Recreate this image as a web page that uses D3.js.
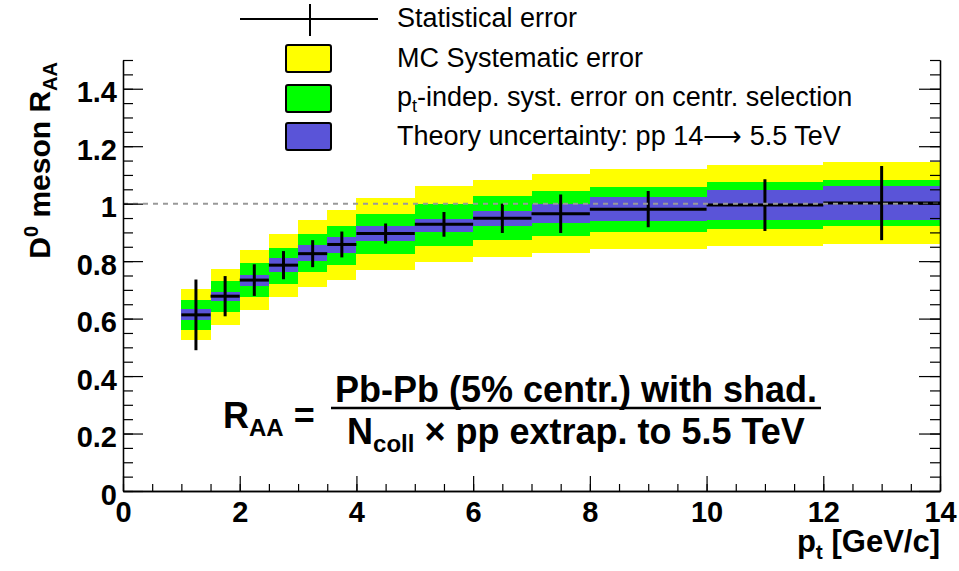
<!DOCTYPE html>
<html>
<head>
<meta charset="utf-8">
<script src="https://cdn.jsdelivr.net/npm/d3@7/dist/d3.min.js"></script>
<style>
  body { margin: 0; background: #fff; }
  text { font-family: "Liberation Sans", Arial, Helvetica, sans-serif; }
</style>
</head>
<body>
<div id="chart"></div>
<script>
// pt bins
const binLo = [1, 1.5, 2, 2.5, 3, 3.5, 4, 5, 6, 7, 8, 10, 12];
const binHi = [1.5, 2, 2.5, 3, 3.5, 4, 5, 6, 7, 8, 10, 12, 14];
// central R_AA values
const raa = [0.613, 0.678, 0.734, 0.786, 0.826, 0.858, 0.896, 0.928, 0.949, 0.965, 0.981, 0.995, 1.002];
// statistical error (symmetric)
const statErr = [0.123, 0.070, 0.055, 0.049, 0.047, 0.045, 0.035, 0.043, 0.051, 0.067, 0.063, 0.090, 0.129];
// MC systematic band
const mcLo = [0.527, 0.577, 0.629, 0.675, 0.710, 0.736, 0.770, 0.797, 0.814, 0.828, 0.841, 0.851, 0.858];
const mcHi = [0.702, 0.771, 0.838, 0.896, 0.942, 0.977, 1.021, 1.060, 1.081, 1.102, 1.119, 1.133, 1.145];
// pt-indep. centrality selection band
const centLo = [0.562, 0.623, 0.675, 0.719, 0.762, 0.785, 0.826, 0.851, 0.872, 0.886, 0.900, 0.913, 0.921];
const centHi = [0.664, 0.730, 0.792, 0.847, 0.893, 0.924, 0.965, 1.000, 1.025, 1.043, 1.058, 1.075, 1.083];
// theory uncertainty band
const thLo = [0.594, 0.660, 0.714, 0.761, 0.799, 0.828, 0.870, 0.901, 0.921, 0.933, 0.938, 0.942, 0.942];
const thHi = [0.632, 0.691, 0.751, 0.810, 0.855, 0.883, 0.924, 0.948, 0.973, 1.000, 1.023, 1.046, 1.061];

const xTicks = [0, 2, 4, 6, 8, 10, 12, 14];
const yTicks = [0, 0.2, 0.4, 0.6, 0.8, 1, 1.2, 1.4];

const margin = { top: 60, right: 19, bottom: 80, left: 123 };
const width = 959 - margin.left - margin.right;
const height = 571 - margin.top - margin.bottom;

const root = d3.select("#chart")
    .append("svg")
    .attr("width", 959)
    .attr("height", 571);

const svg = root.append("g")
    .attr("transform", `translate(${margin.left},${margin.top})`);

const x = d3.scaleLinear().domain([0, 14]).range([0, width]);
const y = d3.scaleLinear().domain([0, 1.5]).range([height, 0]);

const bins = binLo.map((lo, i) => ({ lo: lo, hi: binHi[i], i: i }));

function band(lo, hi, color) {
    svg.append("g").selectAll("rect")
        .data(bins)
        .enter()
        .append("rect")
        .attr("x", d => x(d.lo))
        .attr("width", d => x(d.hi) - x(d.lo))
        .attr("y", d => y(hi[d.i]))
        .attr("height", d => y(lo[d.i]) - y(hi[d.i]))
        .attr("fill", color)
        .attr("shape-rendering", "crispEdges");
}
band(mcLo, mcHi, "#ffff00");
band(centLo, centHi, "#00ff00");
band(thLo, thHi, "#5a54d8");

// central values and stat errors
svg.append("g").selectAll("line")
    .data(bins)
    .enter()
    .append("line")
    .attr("x1", d => x(d.lo))
    .attr("x2", d => x(d.hi))
    .attr("y1", d => y(raa[d.i]))
    .attr("y2", d => y(raa[d.i]))
    .attr("stroke", "#000")
    .attr("stroke-width", 3);

svg.append("g").selectAll("line")
    .data(bins)
    .enter()
    .append("line")
    .attr("x1", d => x((d.lo + d.hi) / 2))
    .attr("x2", d => x((d.lo + d.hi) / 2))
    .attr("y1", d => y(raa[d.i] + statErr[d.i]))
    .attr("y2", d => y(raa[d.i] - statErr[d.i]))
    .attr("stroke", "#000")
    .attr("stroke-width", 3);

// reference line at 1
svg.append("line")
    .attr("x1", 0).attr("x2", width)
    .attr("y1", y(1)).attr("y2", y(1))
    .attr("stroke", "#999")
    .attr("stroke-width", 2)
    .attr("stroke-dasharray", "5,5");

// axes
const xAxis = d3.axisBottom(x).tickValues(xTicks).tickSize(15).tickSizeOuter(0).tickPadding(4).tickFormat(d3.format("d"));
const xMinor = d3.axisBottom(x).tickValues(d3.range(0, 14.01, 0.5)).tickSize(7).tickSizeOuter(0).tickFormat("");
const yAxis = d3.axisLeft(y).tickValues(yTicks).tickSize(20).tickSizeOuter(0).tickPadding(6).tickFormat(d => d3.format("~g")(d));
const yMinor = d3.axisLeft(y).tickValues(d3.range(0, 1.501, 0.05)).tickSize(10).tickSizeOuter(0).tickFormat("");
const yRight = d3.axisRight(y).tickValues(yTicks).tickSize(21).tickSizeOuter(0).tickFormat("");
const yRightMinor = d3.axisRight(y).tickValues(d3.range(0, 1.501, 0.05)).tickSize(10).tickSizeOuter(0).tickFormat("");

svg.append("g").attr("transform", `translate(0,${height})`).call(xMinor)
    .call(g => g.selectAll(".tick line").attr("transform", "scale(1,-1)"));
const gx = svg.append("g").attr("transform", `translate(0,${height})`).call(xAxis);
gx.selectAll(".tick line").attr("transform", "scale(1,-1)");
gx.selectAll("text")
    .attr("font-size", 29)
    .attr("font-weight", "bold")
    .attr("dy", "0.95em")
    .attr("y", 3);

svg.append("g").call(yMinor)
    .call(g => g.selectAll(".tick line").attr("transform", "scale(-1,1)"));
const gy = svg.append("g").call(yAxis);
gy.selectAll(".tick line").attr("transform", "scale(-1,1)");
gy.selectAll("text")
    .attr("font-size", 29)
    .attr("font-weight", "bold")
    .attr("x", -6)
    .attr("dy", "0.45em");

svg.append("g").attr("transform", `translate(${width},0)`).call(yRight)
    .call(g => g.selectAll(".tick line").attr("transform", "scale(-1,1)"));
svg.append("g").attr("transform", `translate(${width},0)`).call(yRightMinor)
    .call(g => g.selectAll(".tick line").attr("transform", "scale(-1,1)"));

root.selectAll(".domain").attr("stroke", "#000").attr("stroke-width", 1.3);
root.selectAll(".tick line").attr("stroke", "#000").attr("stroke-width", 1.2);
gx.selectAll(".tick text").attr("fill", "#000");
gy.selectAll(".tick text").attr("fill", "#000");

// axis titles
const xt = root.append("text")
    .attr("x", 940).attr("y", 552)
    .attr("text-anchor", "end")
    .attr("font-size", 31).attr("font-weight", "bold");
xt.append("tspan").text("p");
xt.append("tspan").attr("font-size", 21).attr("dy", 7).text("t");
xt.append("tspan").attr("dy", -7).text(" [GeV/c]");

const yt = root.append("text")
    .attr("transform", "translate(50,62) rotate(-90)")
    .attr("text-anchor", "end")
    .attr("font-size", 30).attr("font-weight", "bold");
yt.append("tspan").text("D");
yt.append("tspan").attr("font-size", 20).attr("dy", -12).text("0");
yt.append("tspan").attr("dy", 12).text(" meson R");
yt.append("tspan").attr("font-size", 20).attr("dy", 7).text("AA");

// legend
const legend = root.append("g");
legend.append("line").attr("x1", 240).attr("x2", 378).attr("y1", 19).attr("y2", 19)
    .attr("stroke", "#000").attr("stroke-width", 2);
legend.append("line").attr("x1", 310).attr("x2", 310).attr("y1", 4).attr("y2", 36)
    .attr("stroke", "#000").attr("stroke-width", 2);

const legColors = ["#ffff00", "#00ff00", "#5a54d8"];
const legY = [45, 85, 123];
legColors.forEach((c, i) => {
    legend.append("rect")
        .attr("x", 286).attr("y", legY[i])
        .attr("width", 45).attr("height", 27)
        .attr("rx", 2)
        .attr("fill", c)
        .attr("stroke", "#000").attr("stroke-width", 2);
});

const legText = legend.append("g").attr("font-size", 27).attr("fill", "#000");
legText.append("text").attr("x", 397).attr("y", 27).text("Statistical error");
legText.append("text").attr("x", 397).attr("y", 67).text("MC Systematic error");
const lt3 = legText.append("text").attr("x", 397).attr("y", 106);
lt3.append("tspan").text("p");
lt3.append("tspan").attr("font-size", 18).attr("dy", 6).text("t");
lt3.append("tspan").attr("dy", -6).text("-indep. syst. error on centr. selection");
legText.append("text").attr("x", 397).attr("y", 145).text("Theory uncertainty: pp 14\u27f6 5.5 TeV");

// formula
const f = root.append("g").attr("font-weight", "bold").attr("fill", "#000");
const lhs = f.append("text").attr("x", 223).attr("y", 428).attr("font-size", 36);
lhs.append("tspan").text("R");
lhs.append("tspan").attr("font-size", 24).attr("dy", 8).text("AA");
lhs.append("tspan").attr("dy", -8).text(" =");
f.append("text").attr("x", 576).attr("y", 402).attr("text-anchor", "middle")
    .attr("font-size", 36).text("Pb-Pb (5% centr.) with shad.");
f.append("line").attr("x1", 331).attr("x2", 821).attr("y1", 408).attr("y2", 408)
    .attr("stroke", "#000").attr("stroke-width", 2.5);
const den = f.append("text").attr("x", 576).attr("y", 444).attr("text-anchor", "middle")
    .attr("font-size", 36);
den.append("tspan").text("N");
den.append("tspan").attr("font-size", 24).attr("dy", 8).text("coll");
den.append("tspan").attr("dy", -8).text(" \u00d7 pp extrap. to 5.5 TeV");
</script>
</body>
</html>
